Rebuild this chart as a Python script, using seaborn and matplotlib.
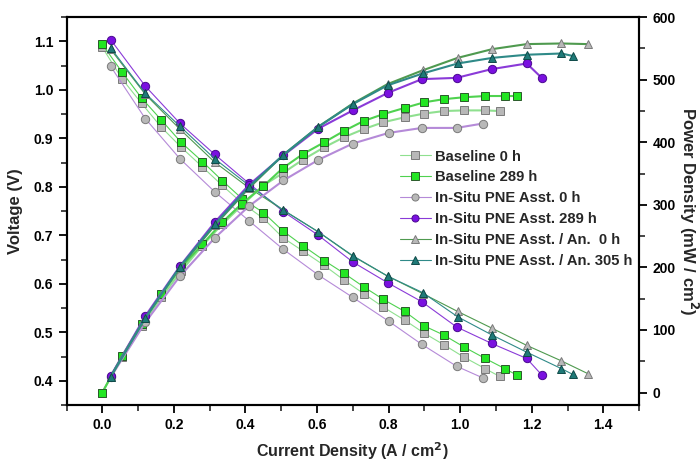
import numpy as np
import pandas as pd
import matplotlib
matplotlib.use("Agg")
import matplotlib.pyplot as plt
from matplotlib.ticker import MultipleLocator
import seaborn as sns

# Current density (A/cm2), voltage (V) and power density (mW/cm2) per test
base0_i = [0.0, 0.055, 0.11, 0.165, 0.22, 0.28, 0.335, 0.39, 0.45, 0.505, 0.56,
           0.62, 0.675, 0.73, 0.785, 0.845, 0.90, 0.955, 1.01, 1.07, 1.11]
base0_v = [1.088, 1.023, 0.972, 0.923, 0.882, 0.841, 0.803, 0.767, 0.735, 0.695, 0.668,
           0.638, 0.608, 0.580, 0.552, 0.525, 0.498, 0.474, 0.449, 0.425, 0.409]
base0_p = [0, 56, 107, 152, 194, 235, 269, 299, 331, 351, 372,
           392, 408, 421, 432, 440, 446, 450, 451, 451, 450]

base289_i = [0.0, 0.055, 0.11, 0.165, 0.22, 0.28, 0.335, 0.39, 0.45, 0.505, 0.56,
             0.62, 0.675, 0.73, 0.785, 0.845, 0.90, 0.955, 1.01, 1.07, 1.125, 1.16]
base289_v = [1.094, 1.037, 0.983, 0.938, 0.892, 0.852, 0.813, 0.776, 0.747, 0.709, 0.679,
             0.648, 0.622, 0.594, 0.568, 0.543, 0.513, 0.494, 0.470, 0.446, 0.425, 0.411]
base289_p = [0, 58, 110, 157, 200, 237, 272, 302, 330, 359, 381,
             400, 418, 434, 445, 455, 464, 469, 472, 474, 474, 474]

pne0_i = [0.023, 0.12, 0.217, 0.314, 0.41, 0.506, 0.604, 0.70, 0.80, 0.893, 0.99, 1.063]
pne0_v = [1.049, 0.941, 0.858, 0.790, 0.730, 0.671, 0.618, 0.572, 0.523, 0.475, 0.430, 0.406]
pne0_p = [24, 112, 186, 247, 298, 339, 372, 398, 415, 423, 423, 430]

pne289_i = [0.023, 0.12, 0.217, 0.314, 0.41, 0.506, 0.604, 0.70, 0.798, 0.893, 0.99,
            1.088, 1.186, 1.228]
pne289_v = [1.104, 1.008, 0.931, 0.867, 0.807, 0.749, 0.700, 0.645, 0.602, 0.563, 0.511,
            0.477, 0.446, 0.412]
pne289_p = [26, 122, 202, 272, 332, 379, 422, 451, 479, 501, 503, 517, 526, 503]

an0_i = [0.023, 0.12, 0.217, 0.314, 0.41, 0.506, 0.604, 0.70, 0.797, 0.895, 0.993,
         1.09, 1.186, 1.283, 1.356]
an0_v = [1.084, 0.991, 0.919, 0.851, 0.798, 0.752, 0.707, 0.657, 0.616, 0.580, 0.543,
         0.508, 0.473, 0.441, 0.415]
an0_p = [25, 119, 200, 267, 327, 380, 425, 462, 493, 515, 535, 549, 557, 558, 557]

an305_i = [0.023, 0.12, 0.217, 0.314, 0.41, 0.506, 0.604, 0.70, 0.797, 0.895, 0.993,
           1.09, 1.186, 1.283, 1.315]
an305_v = [1.087, 0.993, 0.925, 0.858, 0.803, 0.752, 0.707, 0.658, 0.616, 0.582, 0.532,
           0.494, 0.459, 0.425, 0.413]
an305_p = [25, 119, 201, 269, 329, 380, 425, 461, 491, 510, 526, 535, 540, 542, 538]

labels = ["Baseline 0 h", "Baseline 289 h", "In-Situ PNE Asst. 0 h",
          "In-Situ PNE Asst. 289 h", "In-Situ PNE Asst. / An.  0 h",
          "In-Situ PNE Asst. / An. 305 h"]

# (label, I, V, P, marker, face, edge, line colour)
series = [
    (labels[0], base0_i, base0_v, base0_p, "s", "#b8b8b8", "#7a7a7a", "#8fe08f"),
    (labels[1], base289_i, base289_v, base289_p, "s", "#22e622", "#2a5a2a", "#4fd24f"),
    (labels[2], pne0_i, pne0_v, pne0_p, "o", "#b8b8b8", "#7a7a7a", "#b58ad8"),
    (labels[3], pne289_i, pne289_v, pne289_p, "o", "#7a10e0", "#4a0a90", "#8a3ad8"),
    (labels[4], an0_i, an0_v, an0_p, "^", "#b8b8b8", "#7a7a7a", "#4f9a4f"),
    (labels[5], an305_i, an305_v, an305_p, "^", "#1f7a78", "#0f4a48", "#2f8a88"),
]

sns.set_style("white")
plt.rcParams["font.family"] = ["Liberation Sans", "DejaVu Sans"]
plt.rcParams["font.weight"] = "bold"

fig = plt.figure(figsize=(7, 4.65), dpi=100)
ax = fig.add_axes([0.095, 0.129, 0.818, 0.834])
ax2 = ax.twinx()

handles = []
for name, cur, volt, powr, mk, face, edge, lc in series:
    df = pd.DataFrame({"i": cur, "v": volt, "p": powr})
    sns.lineplot(data=df, x="i", y="v", ax=ax, sort=False, estimator=None,
                 color=lc, lw=0.8, marker=mk, markersize=6,
                 markerfacecolor=face, markeredgecolor=edge, markeredgewidth=0.7,
                 legend=False)
    handles.append(ax.lines[-1])
    sns.lineplot(data=df, x="i", y="p", ax=ax2, sort=False, estimator=None,
                 color=lc, lw=1.5, marker=mk, markersize=6,
                 markerfacecolor=face, markeredgecolor=edge, markeredgewidth=0.7,
                 legend=False)

ax.set_xlim(-0.1, 1.5)
ax.set_ylim(0.35, 1.15)
ax2.set_ylim(-20, 600)

ax.xaxis.set_major_locator(MultipleLocator(0.2))
ax.xaxis.set_minor_locator(MultipleLocator(0.1))
ax.yaxis.set_major_locator(MultipleLocator(0.1))
ax.yaxis.set_minor_locator(MultipleLocator(0.05))
ax2.yaxis.set_major_locator(MultipleLocator(100))
ax2.yaxis.set_minor_locator(MultipleLocator(50))

for a in (ax, ax2):
    for s in a.spines.values():
        s.set_color("black")
        s.set_linewidth(1.5)
    a.tick_params(which="major", direction="out", length=6, width=1.3,
                  labelsize=10, colors="black")
    a.tick_params(which="minor", direction="out", length=4, width=1.2)
ax.tick_params(axis="x", which="both", bottom=True, top=False)
ax.tick_params(axis="y", which="both", left=True, right=False)
ax2.tick_params(axis="y", which="both", right=True, left=False)
ax.xaxis.set_major_formatter(plt.FuncFormatter(lambda v, _: f"{v:.1f}"))
ax.yaxis.set_major_formatter(plt.FuncFormatter(lambda v, _: f"{v:.1f}"))
for t in ax.get_xticklabels() + ax.get_yticklabels() + ax2.get_yticklabels():
    t.set_fontweight("bold")

ax.set_xlabel("Current Density (A / cm$^\\mathbf{2}$)", fontsize=11.5,
              fontweight="bold", labelpad=6)
ax.set_ylabel("Voltage (V)", fontsize=12, fontweight="bold", labelpad=8)
ax2.set_ylabel("Power Density (mW / cm$^\\mathbf{2}$)", fontsize=12,
               fontweight="bold", rotation=-90, labelpad=18)

leg = ax2.legend(handles, labels, loc="upper left", bbox_to_anchor=(0.572, 0.674),
                 frameon=False, fontsize=10.6, handlelength=2.1, handletextpad=0.3,
                 labelspacing=0.47, markerscale=0.85, borderaxespad=0)
for t in leg.get_texts():
    t.set_fontweight("bold")

fig.savefig("out.png", dpi=100)
